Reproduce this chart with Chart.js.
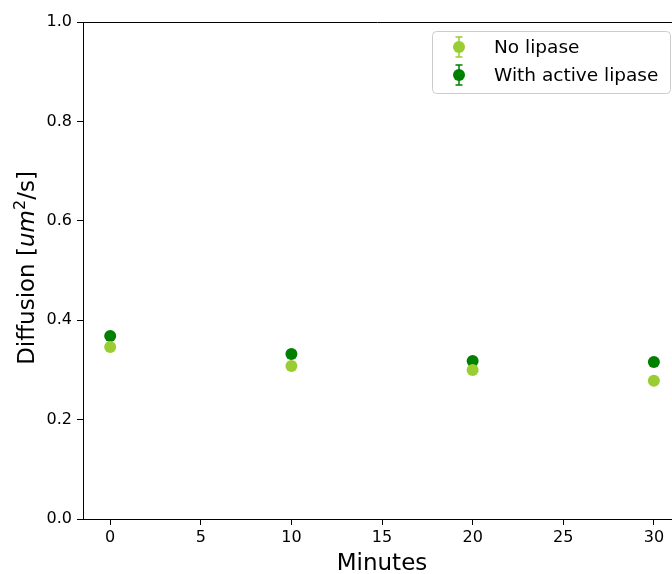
<!DOCTYPE html>
<html>
<head>
<meta charset="utf-8">
<script src="https://cdn.jsdelivr.net/npm/chart.js@4.4.1/dist/chart.umd.min.js"></script>
<style>
  html, body { margin: 0; padding: 0; background: #fff; }
  #wrap { width: 672px; height: 574px; }
</style>
</head>
<body>
<div id="wrap"><canvas id="diffChart" width="672" height="574"></canvas></div>
<script>
// data
const minutes = [0, 10, 20, 30];
const noLipase = [0.346, 0.308, 0.300, 0.278];
const activeLipase = [0.368, 0.332, 0.318, 0.316];
const xTickValues = [0, 5, 10, 15, 20, 25, 30];
const yTickValues = [0, 0.2, 0.4, 0.6, 0.8, 1.0];

const FONT = "'DejaVu Sans', sans-serif";
const LIGHT = "#9acd32";
const DARK = "#008000";

const toPoints = (xs, ys) => xs.map((x, i) => ({ x: x, y: ys[i] }));

// top spine, axis titles and the boxed legend (matplotlib look)
const extras = {
  id: "extras",
  afterDraw(chart) {
    const ctx = chart.ctx;
    const a = chart.chartArea;
    ctx.save();
    // top spine
    ctx.strokeStyle = "#000";
    ctx.lineWidth = 1;
    ctx.beginPath();
    ctx.moveTo(a.left, a.top + 0.5);
    ctx.lineTo(a.right, a.top + 0.5);
    ctx.stroke();

    // x title
    ctx.fillStyle = "#000";
    ctx.font = "23px " + FONT;
    ctx.textAlign = "center";
    ctx.textBaseline = "alphabetic";
    ctx.fillText("Minutes", 382, 570);

    // y title with italic um and superscript
    ctx.translate(34, 268);
    ctx.rotate(-Math.PI / 2);
    const parts = [
      { t: "Diffusion [", f: "23px " + FONT, dy: 0 },
      { t: "um", f: "italic 23px " + FONT, dy: 0 },
      { t: "2", f: "16px " + FONT, dy: -9 },
      { t: "/s]", f: "23px " + FONT, dy: 0 }
    ];
    let total = 0;
    parts.forEach(p => { ctx.font = p.f; total += ctx.measureText(p.t).width; });
    let x = -total / 2;
    ctx.textAlign = "left";
    parts.forEach(p => {
      ctx.font = p.f;
      ctx.fillText(p.t, x, p.dy);
      x += ctx.measureText(p.t).width;
    });
    ctx.setTransform(1, 0, 0, 1, 0, 0);

    // legend
    const bx = 432.5, by = 31.5, bw = 238, bh = 62, r = 4;
    ctx.fillStyle = "rgba(255,255,255,0.8)";
    ctx.strokeStyle = "#cccccc";
    ctx.lineWidth = 1;
    ctx.beginPath();
    ctx.roundRect(bx, by, bw, bh, r);
    ctx.fill();
    ctx.stroke();

    chart.data.datasets.forEach((ds, i) => {
      const cy = 47 + i * 28;
      const mx = 459;
      ctx.strokeStyle = ds.backgroundColor;
      ctx.lineWidth = 1.5;
      ctx.beginPath();
      ctx.moveTo(mx, cy - 10); ctx.lineTo(mx, cy + 10);
      ctx.moveTo(mx - 3.5, cy - 10); ctx.lineTo(mx + 3.5, cy - 10);
      ctx.moveTo(mx - 3.5, cy + 10); ctx.lineTo(mx + 3.5, cy + 10);
      ctx.stroke();
      ctx.fillStyle = ds.backgroundColor;
      ctx.beginPath();
      ctx.arc(mx, cy, 6, 0, Math.PI * 2);
      ctx.fill();
      ctx.fillStyle = "#000";
      ctx.font = "18.5px " + FONT;
      ctx.textAlign = "left";
      ctx.textBaseline = "middle";
      ctx.fillText(ds.label, 494, cy + 1);
    });
    ctx.restore();
  }
};

new Chart(document.getElementById("diffChart"), {
  type: "scatter",
  data: {
    datasets: [
      {
        label: "No lipase",
        data: toPoints(minutes, noLipase),
        backgroundColor: LIGHT,
        borderColor: LIGHT,
        pointRadius: 6,
        pointBorderWidth: 0
      },
      {
        label: "With active lipase",
        data: toPoints(minutes, activeLipase),
        backgroundColor: DARK,
        borderColor: DARK,
        pointRadius: 6,
        pointBorderWidth: 0
      }
    ]
  },
  options: {
    responsive: false,
    animation: false,
    events: [],
    layout: { autoPadding: false, padding: { left: 0, right: 0, top: 22, bottom: 0 } },
    plugins: { legend: { display: false }, tooltip: { enabled: false } },
    scales: {
      x: {
        type: "linear",
        min: -1.5,
        max: 31,
        afterBuildTicks: s => { s.ticks = xTickValues.map(v => ({ value: v })); },
        afterFit: s => { s.height = 55; },
        border: { display: true, color: "#000", width: 1 },
        grid: { display: true, drawOnChartArea: false, drawTicks: true, tickLength: 6, color: "#000" },
        ticks: { color: "#000", font: { family: FONT, size: 16 }, padding: 3, maxRotation: 0 }
      },
      y: {
        min: 0,
        max: 1.0,
        afterBuildTicks: s => { s.ticks = yTickValues.map(v => ({ value: v })); },
        afterFit: s => { s.width = 83; },
        border: { display: true, color: "#000", width: 1 },
        grid: { display: true, drawOnChartArea: false, drawTicks: true, tickLength: 6, color: "#000" },
        ticks: {
          color: "#000",
          font: { family: FONT, size: 16 },
          padding: 5,
          callback: v => v.toFixed(1)
        }
      }
    }
  },
  plugins: [extras]
});
</script>
</body>
</html>
